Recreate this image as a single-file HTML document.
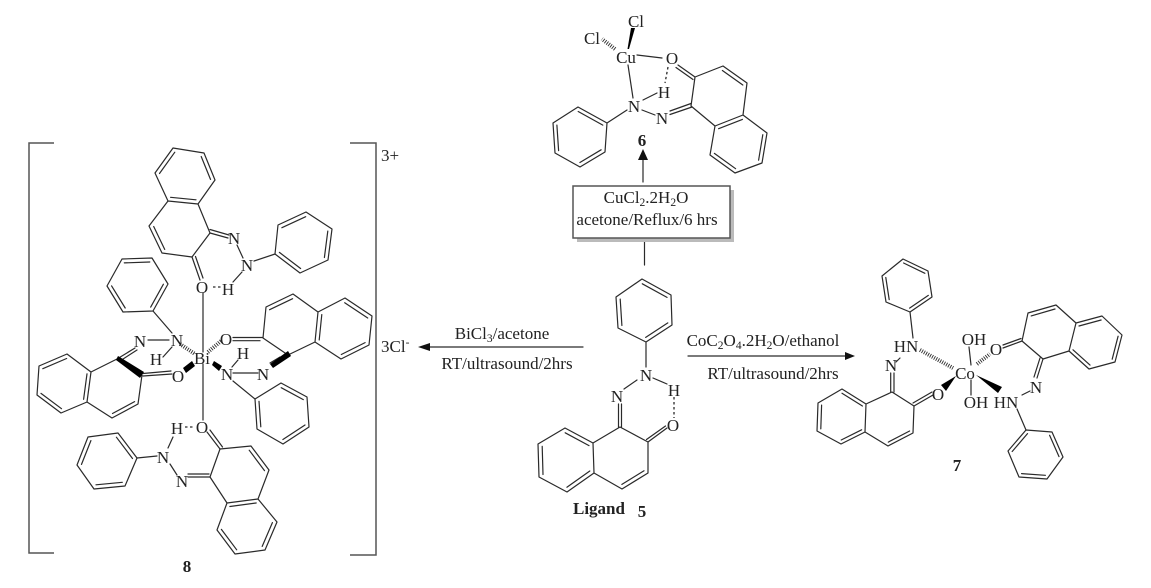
<!DOCTYPE html>
<html><head><meta charset="utf-8"><style>
html,body{margin:0;padding:0;background:#fff}
svg{display:block}
text{font-family:"Liberation Serif",serif;font-size:17px;fill:#222}
.a{text-anchor:middle}
.b{font-weight:bold}
.s{font-size:11.5px}
.l{fill:none;stroke:#2a2a2a;stroke-width:1.2;stroke-linejoin:round;stroke-linecap:round}
.br{fill:none;stroke:#555;stroke-width:1.5}
.h{stroke:#2a2a2a;stroke-width:4;stroke-dasharray:.9 1.4;fill:none}
.d{stroke:#2a2a2a;stroke-width:1.3;stroke-dasharray:2.5 2.5;fill:none}
</style></head><body>
<svg width="1151" height="588" viewBox="0 0 1151 588" xmlns="http://www.w3.org/2000/svg">
<!-- brackets -->
<path class="br" d="M54 143H29V553H54M350 143H376V555H350"/>

<!-- Bi complex rings -->
<path class="l" d="M173 148L204 153L215 180L198 204L168 201L155 173ZM168 201L149 226L162 253L192 257L210 233L198 204M275 254L278 225L306 212L332 229L328 260L300 273ZM123 312L153 311L168 284L152 258L122 259L107 286ZM91 372L67 354L39 366L37 395L61 413L87 402ZM117 359L91 372L87 402L112 418L138 404L142 375M263 338L266 307L293 294L318 312L315 342L288 355ZM318 312L345 298L372 316L369 345L341 359L315 342M255 399L281 383L307 397L309 427L283 444L257 429ZM220 449L251 446L269 470L258 499L227 503L210 477ZM258 499L277 522L265 550L235 554L217 530L227 503M137 458L118 433L88 437L77 465L94 489L125 486Z"/>
<!-- Bi inner double bonds -->
<path class="l" d="M174.8 152.2L159.5 173.5M201.2 156.5L210.5 179.4M170.6 197.3L196 199.8M153.7 226.5L164.7 249.4M281.9 227.7L305.7 216.7M327.8 231.1L324.4 257.5M300.6 268.5L279.4 252.4M125.2 308L111.6 285.9M150.7 307.1L163.4 284.2M149.8 262L124.3 262.9M66.6 358.5L42.8 368.7M41 393.4L61.5 408.7M83.6 399.3L87 373.8M112.5 413.5L134.6 401.6M269.6 309.7L292.6 298.7M344.7 302.7L367.7 318M365.1 342.6L341.3 354.5M319.2 340L321.8 314.6M281.2 387.7L303.3 399.6M305 425L282.9 439.5M260.8 426.8L259 401.3M249.2 450.2L264.5 470.6M256.2 503L229.9 506.5M272.4 522.6L262.2 546.4M236.7 549.8L221.4 529.4M132.5 458.5L116.4 437.2M90.9 440.6L81.5 464.4M96 484.8L122.3 482.3"/>
<!-- Bi substituent bonds -->
<path class="l" d="M210 233L228 238M210 229.5L229 235M192 257L200 280M195.5 256.5L203 278M237 245L243 258M254 261L275 254M242 272L233 282M203 293V352M203 364V420M153 311L172 333M148 340H169M172 347L163 357M117 359L135 348M120 361L137 350M143 373.5L171 371M143 376L172 374M233 337.5H263M233 340.7H260M270 363L280 357M233 373H258M232 367L238 360M233 381L255 399M207 432L220 449M210 430L222.5 447M210 477H188M209 474H188M177 475L170 464M168 448L173 437M157 456L137 458"/>
<path class="d" d="M213 287H223M185 427H194"/>
<path class="h" d="M180 344L195 354M208 352L221 341"/>
<path d="M118 356L116 360L140 378L144 372Z" fill="#000"/>
<path d="M288 351L291 356L273 368L270 364Z" fill="#000"/>
<path d="M183 368L192 361L195 366L186 373Z" fill="#000"/>
<path d="M214 361L222 366L219 371L212 365Z" fill="#000"/>

<text class="a" x="234" y="244">N</text><text class="a" x="247" y="271">N</text><text class="a" x="228" y="295">H</text>
<text class="a" x="202" y="293">O</text><text class="a" x="177" y="346">N</text><text class="a" x="140" y="347">N</text>
<text class="a" x="156" y="365">H</text><text class="a" x="202" y="364">Bi</text><text class="a" x="226" y="345">O</text>
<text class="a" x="243" y="359">H</text><text class="a" x="227" y="380">N</text><text class="a" x="263" y="380">N</text>
<text class="a" x="178" y="382">O</text><text class="a" x="202" y="433">O</text><text class="a" x="177" y="434">H</text>
<text class="a" x="163" y="463">N</text><text class="a" x="182" y="487">N</text>
<text x="381" y="161">3+</text>
<text x="381" y="352">3Cl<tspan class="s" dy="-6">-</tspan></text>
<text class="a b" x="187" y="572">8</text>

<!-- Cu complex -->
<path class="l" d="M691 106L695 77L723 66L747 83L743 115L715 126ZM743 115L767 133L762 163L735 173L710 155L715 126M607 123L578 107L553 123L555 153L580 167L605 152ZM722.4 70.5L742.8 85M762.8 134.7L758.6 160.2M735.6 168.7L714.4 153.4M718.6 128.7L742.4 119.4M602.8 125.1L578.2 111.5M556.9 125.1L558.6 150.6M579.9 162.5L601.1 149.8M637 55L662 58M628 65L633 98M643 100L657 93M642 110L655 115M670 111L691 103.5M670 114.5L692 107M695 77L678 65M693 79.5L676 67.5M627 110L607 123"/>
<path d="M627.5 49L629 49L635 28L631 28Z" fill="#000"/>
<path class="h" d="M615 49L602 39"/>
<path class="d" d="M668 67L665 83"/>
<text class="a" x="636" y="27">Cl</text><text class="a" x="592" y="44">Cl</text><text class="a" x="626" y="63">Cu</text>
<text class="a" x="672" y="64">O</text><text class="a" x="664" y="98">H</text><text class="a" x="634" y="112">N</text>
<text class="a" x="662" y="124">N</text><text class="a b" x="642" y="146">6</text>

<!-- top arrow and box -->
<path class="l" d="M643 182V160M644.5 238V265"/>
<path d="M643 149L638 160H648Z" fill="#111"/>
<rect x="577" y="190" width="157" height="52" fill="#bbb"/>
<rect x="573" y="186" width="157" height="52" fill="#fff" stroke="#555" stroke-width="1.5"/>
<text class="a" x="646" y="203">CuCl<tspan class="s" dy="3">2</tspan><tspan dy="-3">.2H</tspan><tspan class="s" dy="3">2</tspan><tspan dy="-3">O</tspan></text>
<text class="a" x="647" y="225">acetone/Reflux/6 hrs</text>

<!-- Ligand -->
<path class="l" d="M642 279L671 295L672 325L646 342L618 328L616 297ZM620 427L648 442L648 473L622 489L594 473L593 443ZM593 443L565 428L538 444L539 477L567 492L594 473M642.3 283.8L667 297.4M667.8 322.9L645.7 337.4M621.9 325.5L620.2 299.1M644 470.8L621.9 484.4M589 445.6L565.2 432.8M542.2 446.4L543 474.5M566.9 487.2L589.8 471M646 342V367M653 378L667 384M648 442L667 428M646.5 439.5L665.5 426M637 380L624 389M618.5 404V427M621.5 404V427"/>
<path class="d" d="M674 397V418"/>
<text class="a" x="646" y="381">N</text><text class="a" x="674" y="396">H</text><text class="a" x="673" y="431">O</text><text class="a" x="617" y="402">N</text>
<text class="a b" x="599" y="514">Ligand</text><text class="a b" x="642" y="517">5</text>

<!-- left arrow -->
<path class="l" d="M583 347H428"/>
<path d="M418 347L430 343V351Z" fill="#111"/>
<text class="a" x="502" y="339">BiCl<tspan class="s" dy="3">3</tspan><tspan dy="-3">/acetone</tspan></text>
<text class="a" x="507" y="369">RT/ultrasound/2hrs</text>

<!-- right arrow -->
<path class="l" d="M688 356H846"/>
<path d="M855 356L845 352V360Z" fill="#111"/>
<text class="a" x="763" y="346">CoC<tspan class="s" dy="3">2</tspan><tspan dy="-3">O</tspan><tspan class="s" dy="3">4</tspan><tspan dy="-3">.2H</tspan><tspan class="s" dy="3">2</tspan><tspan dy="-3">O/ethanol</tspan></text>
<text class="a" x="773" y="379">RT/ultrasound/2hrs</text>

<!-- Co complex -->
<path class="l" d="M903 259L928 271L932 297L910 312L886 302L882 276ZM892 392L914 406L913 433L888 446L865 432L866 404ZM866 404L842 389L818 403L817 431L841 444L865 432M1022 341L1028 313L1056 305L1076 323L1069 351L1043 359ZM1076 323L1102 316L1122 335L1115 362L1089 369L1069 351M1026 430L1052 432L1063 457L1047 479L1019 477L1008 451Z"/>
<path class="l" d="M903.6 263L924.9 273.3M928.3 295.4L909.6 308.1M889.2 299.6L885.8 277.5M909.6 431L888.3 442.1M862.4 406L842 393.2M821.6 405.1L820.8 428.9M841.2 440L861.6 429.8M1031.2 315.9L1055 309M1079 326L1101.1 320M1118.1 336.2L1112.2 359.2M1090 365.1L1073 349.8M1027.5 433.6L1012.2 451.5M1049.6 435.3L1059 456.6M1045.4 475.3L1021.6 473.6"/>
<path class="l" d="M910 312L913 338M900 358L896 362M890.7 373V392M894 373V392M914 406L933 395M913 403L932 392M969 347L971 365M971 380V395M1003 348L1022 341M1003 345L1021 338.5M1043 359L1037 378M1040 358L1034 377M1030 391L1022 395M1017 409L1026 430"/>
<path class="h" d="M920 350L953 368M977 364L990 354"/>
<path d="M956 376L941 385L946 391Z" fill="#000"/>
<path d="M976 375L1002 387L998 393Z" fill="#000"/>
<text class="a" x="906" y="352">HN</text><text class="a" x="891" y="371">N</text><text class="a" x="938" y="400">O</text>
<text class="a" x="965" y="379">Co</text><text class="a" x="974" y="345">OH</text><text class="a" x="996" y="355">O</text>
<text class="a" x="976" y="408">OH</text><text class="a" x="1006" y="408">HN</text><text class="a" x="1036" y="393">N</text>
<text class="a b" x="957" y="471">7</text>
</svg>
</body></html>
